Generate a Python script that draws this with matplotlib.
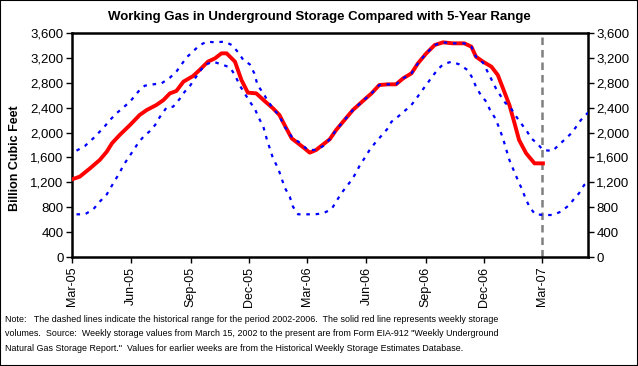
import numpy as np
import matplotlib
matplotlib.use("Agg")
import matplotlib.pyplot as plt
from matplotlib.patches import Rectangle
from matplotlib.ticker import FuncFormatter

plt.rcParams['font.family'] = ['Liberation Sans', 'DejaVu Sans']

# days counted from 1 Mar 2005, values in Bcf
start = np.datetime64('2005-03-01')

red_days = [0, 12, 28, 43, 54, 62, 74, 90, 105, 116, 131, 142, 152, 162, 173, 188, 198, 211, 222, 232,
            240, 253, 263, 273, 286, 299, 312, 322, 330, 341, 351, 361, 369, 379, 384, 400, 410, 423, 436, 452,
            465, 477, 490, 503, 514, 527, 537, 550, 563, 576, 591, 609, 620, 627, 638, 651, 661, 669, 679, 687,
            694, 705, 718, 731]
red_vals = [1248, 1291, 1425, 1559, 1693, 1827, 1961, 2121, 2282, 2362, 2443, 2523, 2630, 2668, 2818, 2909, 3005, 3139, 3193, 3273,
            3273, 3139, 2845, 2641, 2630, 2507, 2389, 2282, 2121, 1907, 1827, 1746, 1677, 1720, 1762, 1891, 2041, 2202, 2362, 2512,
            2630, 2764, 2775, 2775, 2871, 2952, 3112, 3273, 3407, 3450, 3434, 3434, 3380, 3220, 3139, 3059, 2925, 2711, 2443, 2148,
            1880, 1666, 1505, 1505]

# 5-year max
hi_days = [7, 20, 33, 49, 59, 69, 77, 90, 105, 113, 126, 139, 152, 162, 178, 198, 209, 222, 237, 248,
           258, 266, 276, 283, 288, 297, 304, 312, 322, 330, 341, 356, 366, 379, 390, 400, 410, 423, 436, 452,
           465, 477, 490, 503, 514, 527, 537, 550, 563, 576, 591, 609, 620, 627, 638, 651, 658, 671, 682, 689,
           697, 705, 713, 723, 731, 746, 754, 764, 775, 782, 790, 801]
hi_vals = [1709, 1784, 1907, 2078, 2202, 2309, 2379, 2496, 2684, 2753, 2775, 2791, 2882, 2979, 3209, 3402, 3461, 3450, 3461, 3407,
           3289, 3166, 3096, 2952, 2764, 2630, 2507, 2389, 2266, 2095, 1934, 1816, 1720, 1720, 1784, 1891, 2041, 2202, 2362, 2512,
           2630, 2764, 2775, 2775, 2871, 2952, 3112, 3273, 3407, 3450, 3434, 3434, 3380, 3220, 3123, 2856, 2711, 2496, 2379, 2266,
           2148, 2041, 1907, 1816, 1720, 1704, 1784, 1880, 1987, 2084, 2202, 2320]

# 5-year min
lo_days = [7, 20, 33, 43, 54, 67, 74, 80, 87, 95, 103, 111, 121, 129, 136, 147, 157, 167, 175, 183,
           191, 198, 206, 219, 232, 245, 253, 260, 268, 276, 284, 289, 297, 302, 307, 312, 320, 325, 330, 338,
           343, 351, 364, 377, 390, 403, 410, 418, 426, 434, 441, 447, 455, 462, 470, 479, 489, 496, 506, 515,
           526, 534, 542, 551, 559, 568, 576, 589, 601, 614, 622, 627, 634, 643, 649, 657, 663, 669, 674, 679,
           685, 692, 699, 705, 711, 719, 733, 746, 759, 772, 780, 787, 795, 801]
lo_vals = [686, 686, 766, 889, 1007, 1237, 1355, 1478, 1586, 1709, 1837, 1934, 2025, 2121, 2245, 2405, 2416, 2539, 2657, 2748,
           2871, 2979, 3086, 3139, 3096, 3048, 2925, 2764, 2630, 2496, 2379, 2255, 2095, 1907, 1746, 1586, 1425, 1275, 1120, 970,
           809, 686, 686, 686, 702, 771, 889, 1023, 1130, 1237, 1355, 1478, 1602, 1720, 1827, 1934, 2052, 2175, 2255, 2336,
           2432, 2539, 2657, 2780, 2898, 3016, 3096, 3139, 3096, 3005, 2871, 2737, 2614, 2496, 2362, 2229, 2078, 1907, 1730, 1559,
           1409, 1237, 1077, 916, 793, 686, 675, 675, 729, 836, 943, 1023, 1157, 1211]

tick_dates = ['2005-03-01', '2005-06-01', '2005-09-01', '2005-12-01', '2006-03-01',
              '2006-06-01', '2006-09-01', '2006-12-01', '2007-03-01']
tick_labels = ['Mar-05', 'Jun-05', 'Sep-05', 'Dec-05', 'Mar-06', 'Jun-06', 'Sep-06', 'Dec-06', 'Mar-07']
y_ticks = [0, 400, 800, 1200, 1600, 2000, 2400, 2800, 3200, 3600]


def to_dates(days):
    return start + np.array(days, dtype='timedelta64[D]')


fig = plt.figure(figsize=(6.38, 3.66), dpi=100)
ax = fig.add_axes([72 / 638, 1 - 257 / 366, 516 / 638, 224 / 366])

ax.plot(to_dates(red_days), red_vals, color='#ff0000', lw=2.8, zorder=3, solid_joinstyle='round')
ax.plot(to_dates(hi_days), hi_vals, color='#0000ff', lw=1.6, ls=(0, (1.6, 2.6)), zorder=4)
ax.plot(to_dates(lo_days), lo_vals, color='#0000ff', lw=1.6, ls=(0, (1.6, 2.6)), zorder=4)
ax.axvline(np.datetime64('2007-03-01'), color='#808080', lw=1.8, ls=(0, (3, 2)), zorder=2)

ax.set_xlim(start, start + np.timedelta64(801, 'D'))
ax.set_ylim(0, 3600)
ax.set_xticks([np.datetime64(d) for d in tick_dates])
ax.set_xticklabels(tick_labels, rotation=90, fontsize=9)
ax.set_yticks(y_ticks)
ax.yaxis.set_major_formatter(FuncFormatter(lambda v, p: f'{int(v):,}'))
ax.tick_params(axis='y', labelsize=9.5, right=True, labelright=True, length=4, width=1, pad=2)
ax.tick_params(axis='x', length=4, width=1, pad=3)
for s in ax.spines.values():
    s.set_linewidth(1.8)

fig.text(0.5, 1 - 17 / 366, 'Working Gas in Underground Storage Compared with 5-Year Range',
         ha='center', va='center', fontsize=9.5, fontweight='bold')
fig.text(15 / 638, 1 - 158 / 366, 'Billion Cubic Feet', rotation=90, ha='center', va='center',
         fontsize=9, fontweight='bold')

note = ('Note:   The dashed lines indicate the historical range for the period 2002-2006.  The solid red line represents weekly storage\n'
        'volumes.  Source:  Weekly storage values from March 15, 2002 to the present are from Form EIA-912 "Weekly Underground\n'
        'Natural Gas Storage Report."  Values for earlier weeks are from the Historical Weekly Storage Estimates Database.')
fig.text(5 / 638, 1 - 334 / 366, note, ha='left', va='center', fontsize=6.4, linespacing=1.75)

# outer frame
fig.patches.append(Rectangle((0, 0), 1, 1, transform=fig.transFigure, fill=False,
                             edgecolor='black', lw=1.5))

fig.savefig('out.png', dpi=100)
